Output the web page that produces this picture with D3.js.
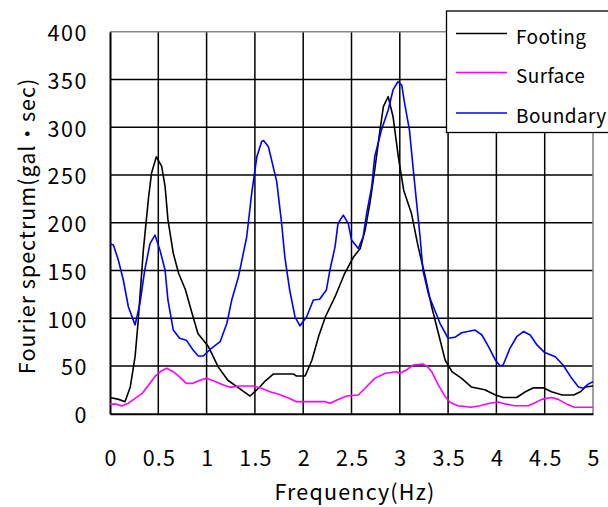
<!DOCTYPE html>
<html><head><meta charset="utf-8">
<script src="https://cdn.jsdelivr.net/npm/d3@7"></script>
<style>
body{margin:0;background:#fff;}
svg{display:block;}
text{font-family:"Noto Sans CJK JP","Noto Sans",sans-serif;fill:#000;}
</style></head><body>
<svg id="chart" width="608" height="507"></svg>
<script>
const xTicks = [0,0.5,1,1.5,2,2.5,3,3.5,4,4.5,5];
const yTicks = [0,50,100,150,200,250,300,350,400];
const seriesNames = ["Footing","Surface","Boundary"];
const seriesColors = ["#000000","#ff00ff","#0000ff"];
const xTitle = "Frequency(Hz)";
const yTitle = "Fourier spectrum(gal・sec)";

const footingFreq = [0,0.09,0.155,0.21,0.26,0.29,0.345,0.4,0.43,0.48,0.535,0.57,0.6,0.655,0.71,0.78,0.85,0.91,1.02,1.12,1.22,1.36,1.45,1.55,1.6,1.69,1.9,1.93,2.02,2.09,2.16,2.23,2.33,2.43,2.52,2.59,2.64,2.69,2.74,2.795,2.83,2.88,2.93,2.985,3.04,3.12,3.19,3.26,3.33,3.4,3.47,3.54,3.64,3.74,3.88,3.99,4.07,4.21,4.3,4.38,4.49,4.57,4.68,4.8,4.87,4.92,5];
const footingAmp = [17,15,12.6,28,60,95,171,227,252,269,259,238,203,168,147,130,105,84,70,49,35,25,18.5,28,33.5,41.5,41.5,39.5,39.5,56,81,101.5,122.5,147,164,173,192,220,255,297,321.5,332,311,269,234,210,175,145,112,84,56,44,37,28,25,19.6,17,17,23,27,27,23,19.6,19.6,23,28,29];

const surfaceFreq = [0,0.07,0.12,0.19,0.26,0.33,0.4,0.466,0.535,0.587,0.655,0.725,0.79,0.86,0.93,1.0,1.07,1.156,1.24,1.33,1.48,1.57,1.656,1.74,1.86,1.93,2.23,2.28,2.35,2.45,2.57,2.64,2.74,2.85,2.97,3.0,3.07,3.14,3.24,3.29,3.33,3.4,3.47,3.52,3.6,3.74,3.83,3.93,4.02,4.1,4.19,4.33,4.4,4.47,4.57,4.64,4.73,4.81,5];
const surfaceAmp = [10,10,8,11,16,21,30,39,45,47.5,44,38,31.8,31.8,35,37,34.6,30.8,27.6,29,29,26.6,23,20.6,16,12.6,12.6,11,14.3,18.5,19.6,26.6,37,42.3,44,42.3,45.8,51,52,49,44,30,17.8,12,8.4,6.7,8.4,11,12.2,10,8.4,8.4,11.5,15,17,15,10,6.7,6.7];

const boundaryFreq = [0,0.035,0.086,0.138,0.19,0.26,0.31,0.36,0.414,0.466,0.518,0.57,0.6,0.655,0.72,0.79,0.86,0.914,0.966,1.05,1.14,1.21,1.26,1.33,1.415,1.467,1.52,1.57,1.59,1.64,1.656,1.726,1.777,1.81,1.86,1.915,1.967,2.036,2.105,2.17,2.24,2.277,2.33,2.36,2.415,2.467,2.5,2.57,2.62,2.657,2.71,2.74,2.81,2.88,2.93,2.98,3.02,3.05,3.1,3.14,3.175,3.21,3.24,3.3,3.416,3.5,3.57,3.64,3.78,3.85,3.92,3.99,4.04,4.07,4.14,4.21,4.28,4.35,4.42,4.5,4.61,4.69,4.78,4.85,4.9,4.95,5];
const boundaryAmp = [178,176.6,161,140,112,93,115.6,150.5,178,187,171,150.5,119,87.6,79,77,66.7,60.4,60.4,68.5,75.4,94.7,119,143.5,185,231,269,285,286,279.6,272.7,243,199,164,129.5,101.5,92,101.5,119,119.8,129.5,150.5,175,199,208,199,182,173,185,210,238,269,297,318,339,347.6,344,325,297,255,220,185,150,124,94.7,79,80,84.8,87.6,82.4,70,56,50,51,68.5,80.6,86,82.4,72,64,59.7,51,37,28,26.6,31,33.5];

const seriesFreq = [footingFreq, surfaceFreq, boundaryFreq];
const seriesAmp = [footingAmp, surfaceAmp, boundaryAmp];

const svg = d3.select("#chart");
const x = d3.scaleLinear().domain([0,5]).range([110,593]);
const y = d3.scaleLinear().domain([0,400]).range([413.7,31.7]);

// grid
const g = svg.append("g");
g.selectAll("line.vg").data(xTicks.filter(t=>t>0 && t<5)).enter().append("line")
  .attr("x1",d=>x(d)).attr("x2",d=>x(d)).attr("y1",y(0)).attr("y2",y(400))
  .attr("stroke","#000").attr("stroke-width",1.5);
g.selectAll("line.hg").data(yTicks.filter(t=>t>0 && t<400)).enter().append("line")
  .attr("x1",x(0)).attr("x2",x(5)).attr("y1",d=>y(d)).attr("y2",d=>y(d))
  .attr("stroke","#000").attr("stroke-width",1.5);
// top/right border gray
g.append("line").attr("x1",x(0)).attr("x2",x(5)).attr("y1",y(400)).attr("y2",y(400)).attr("stroke","#888").attr("stroke-width",1.6);
g.append("line").attr("x1",x(5)).attr("x2",x(5)).attr("y1",y(0)).attr("y2",y(400)).attr("stroke","#888").attr("stroke-width",1.6);

// axes
const xAxis = d3.axisBottom(x).tickValues(xTicks).tickSize(0).tickPadding(37).tickFormat(d=>String(d));
const yAxis = d3.axisLeft(y).tickValues(yTicks).tickSize(0).tickPadding(22).tickFormat(d=>String(d));
const gx = svg.append("g").attr("transform",`translate(0,${y(0)})`).call(xAxis);
const gy = svg.append("g").attr("transform",`translate(${x(0)},0)`).call(yAxis);
[gx,gy].forEach(a=>{
  a.select(".domain").attr("stroke","#000").attr("stroke-width",2);
  a.selectAll("text").attr("font-size",21.5).attr("font-family",'"Noto Sans CJK JP",sans-serif').attr("fill","#000");
});
gx.selectAll("text").attr("letter-spacing",1.2).attr("dx","0.6");
gy.selectAll("text").attr("dy","0.42em").attr("letter-spacing",1.6);

// lines
const line = d3.line().x(d=>x(d[0])).y(d=>y(d[1]));
seriesNames.forEach((name,i)=>{
  const pts = seriesFreq[i].map((f,j)=>[f,seriesAmp[i][j]]);
  svg.append("path").datum(pts).attr("d",line)
    .attr("fill","none").attr("stroke",seriesColors[i]).attr("stroke-width",1.6)
    .attr("stroke-linejoin","round");
});

// titles
svg.append("text").attr("x",355).attr("y",500).attr("text-anchor","middle")
  .attr("font-size",21.5).attr("letter-spacing",1.2).text(xTitle);
svg.append("text").attr("transform","translate(35,226) rotate(-90)").attr("text-anchor","middle")
  .attr("font-size",21.5).attr("letter-spacing",1).text(yTitle);

// legend
const lg = svg.append("g");
lg.append("rect").attr("x",446.5).attr("y",11).attr("width",170).attr("height",121.5)
  .attr("fill","#fff").attr("stroke","#000").attr("stroke-width",1.3);
const legendY = [33.5,72.5,113];
seriesNames.forEach((name,i)=>{
  lg.append("line").attr("x1",456).attr("x2",507).attr("y1",legendY[i]).attr("y2",legendY[i])
    .attr("stroke",seriesColors[i]).attr("stroke-width",1.6);
  lg.append("text").attr("x",516).attr("y",legendY[i]+10).attr("font-size",19)
    .attr("letter-spacing",0.4).text(name);
});
</script></body></html>
